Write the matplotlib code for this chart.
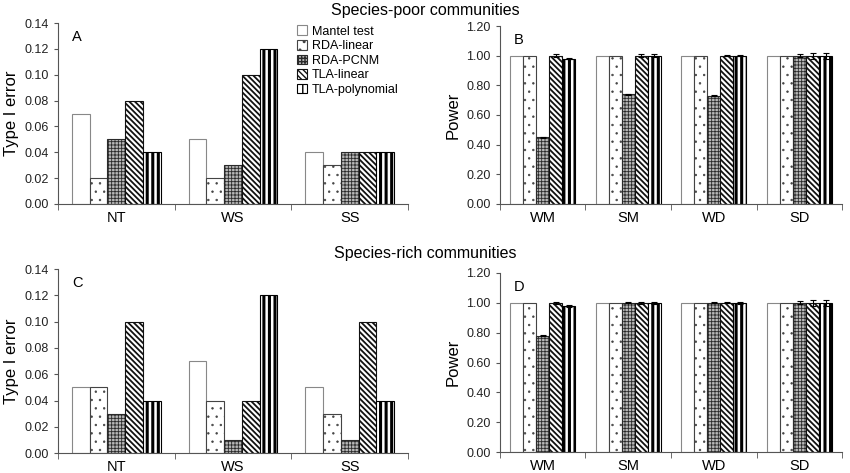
import matplotlib
matplotlib.use('Agg')
import matplotlib.pyplot as plt
import numpy as np

plt.rcParams['font.family'] = ['Liberation Sans', 'DejaVu Sans']

#%% data
methods = ['Mantel test', 'RDA-linear', 'RDA-PCNM', 'TLA-linear', 'TLA-polynomial']
err_cats = ['NT', 'WS', 'SS']
pow_cats = ['WM', 'SM', 'WD', 'SD']

# Type I error, rows = methods, cols = NT, WS, SS
err_poor = [[0.07, 0.05, 0.04],
            [0.02, 0.02, 0.03],
            [0.05, 0.03, 0.04],
            [0.08, 0.10, 0.04],
            [0.04, 0.12, 0.04]]
err_rich = [[0.05, 0.07, 0.05],
            [0.05, 0.04, 0.03],
            [0.03, 0.01, 0.01],
            [0.10, 0.04, 0.10],
            [0.04, 0.12, 0.04]]

# Power, rows = methods, cols = WM, SM, WD, SD
pow_poor = [[1.00, 1.00, 1.00, 1.00],
            [1.00, 1.00, 1.00, 1.00],
            [0.45, 0.74, 0.73, 1.00],
            [1.00, 1.00, 1.00, 1.00],
            [0.98, 1.00, 1.00, 1.00]]
pow_poor_sd = [[0, 0, 0, 0],
               [0, 0, 0, 0],
               [0.004, 0.004, 0.004, 0.01],
               [0.008, 0.008, 0.004, 0.02],
               [0.005, 0.008, 0.005, 0.02]]
pow_rich = [[1.00, 1.00, 1.00, 1.00],
            [1.00, 1.00, 1.00, 1.00],
            [0.78, 1.00, 1.00, 1.00],
            [1.00, 1.00, 1.00, 1.00],
            [0.98, 1.00, 1.00, 1.00]]
pow_rich_sd = [[0, 0, 0, 0],
               [0, 0, 0, 0],
               [0.004, 0.004, 0.004, 0.01],
               [0.008, 0.008, 0.004, 0.02],
               [0.005, 0.008, 0.005, 0.02]]

#%% styles per method
faces = ['white', 'white', '#b8b8b8', 'white', 'white']
edges = ['#888888', '#444444', '#2a2a2a', '#111111', '#000000']
hatches = [None, '..', '+++++', '\\\\\\\\\\\\', '|||']
hatch_lw = [1.0, 0.5, 0.6, 1.3, 2.2]

width = 0.152
offsets = (np.arange(5) - 2) * width


def draw_panel(ax, cats, vals, sd, ymax, step, ylabel, letter):
    x = np.arange(len(cats))
    for i in range(5):
        with plt.rc_context({'hatch.linewidth': hatch_lw[i]}):
            ax.bar(x + offsets[i], vals[i], width, color=faces[i], edgecolor=edges[i],
                   hatch=hatches[i], linewidth=0.8, label=methods[i])
        if sd is not None and max(sd[i]) > 0:
            ax.errorbar(x + offsets[i], vals[i], yerr=sd[i], fmt='none', ecolor='black',
                        elinewidth=0.8, capsize=2, capthick=0.8)
    ax.set_xlim(-0.5, len(cats) - 0.5)
    ax.set_ylim(0, ymax)
    ticks = np.arange(0, ymax + step / 2, step)
    ax.set_yticks(ticks)
    ax.set_yticklabels(['{:.2f}'.format(t) for t in ticks], fontsize=9, color='#222222')
    ax.set_xticks(x)
    ax.set_xticklabels(cats, fontsize=10.5)
    ax.set_xticks(np.arange(len(cats) + 1) - 0.5, minor=True)
    ax.tick_params(axis='x', which='major', length=0, pad=5)
    ax.tick_params(axis='x', which='minor', length=4, direction='out', color='#555555')
    ax.tick_params(axis='y', length=3, direction='out', color='#555555')
    for s in ['top', 'right']:
        ax.spines[s].set_visible(False)
    for s in ['left', 'bottom']:
        ax.spines[s].set_color('#555555')
        ax.spines[s].set_linewidth(0.8)
    ax.set_ylabel(ylabel, fontsize=12)
    ax.text(0.04, 0.96, letter, transform=ax.transAxes, fontsize=10.5, va='top')


fig = plt.figure(figsize=(8.5, 4.73), dpi=100)
axA = fig.add_axes([0.068, 0.569, 0.412, 0.382])
axB = fig.add_axes([0.588, 0.569, 0.403, 0.376])
axC = fig.add_axes([0.068, 0.042, 0.412, 0.389])
axD = fig.add_axes([0.588, 0.044, 0.403, 0.379])

draw_panel(axA, err_cats, err_poor, None, 0.14, 0.02, 'Type I error', 'A')
draw_panel(axB, pow_cats, pow_poor, pow_poor_sd, 1.20, 0.20, 'Power', 'B')
draw_panel(axC, err_cats, err_rich, None, 0.14, 0.02, 'Type I error', 'C')
draw_panel(axD, pow_cats, pow_rich, pow_rich_sd, 1.20, 0.20, 'Power', 'D')

axA.legend(loc='upper left', bbox_to_anchor=(0.65, 1.05), frameon=False, fontsize=9,
           handlelength=0.8, handleheight=0.8, handletextpad=0.4, labelspacing=0.2)

fig.text(0.5, 0.978, 'Species-poor communities', ha='center', va='center', fontsize=11.5)
fig.text(0.5, 0.465, 'Species-rich communities', ha='center', va='center', fontsize=11.5)

fig.savefig('out.png', dpi=100)
